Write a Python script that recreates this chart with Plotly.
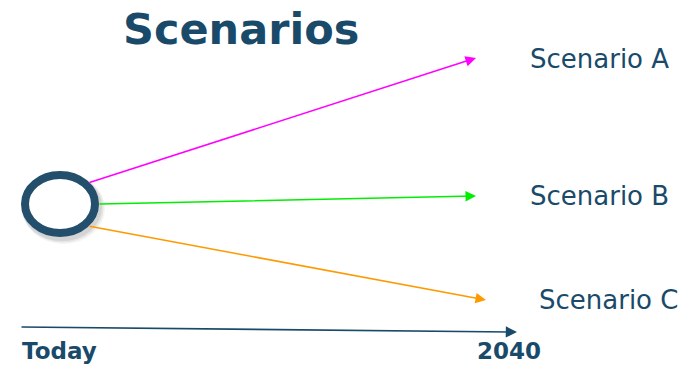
import plotly.graph_objects as go

# ---- data (diagram coordinates in a 692 x 367 canvas space) ----
scenarios = ["Scenario A", "Scenario B", "Scenario C"]
arrow_start_x = [88, 98, 88]
arrow_start_y = [183, 204, 226]
arrow_end_x = [476, 476, 486]
arrow_end_y = [58, 196, 300]
label_x = [528, 528, 537]
label_y = [59, 196, 300]

timeline_labels = ["Today", "2040"]
timeline_start = [20, 327]
timeline_end = [517, 332]
timeline_label_x = [20, 543]

circle_center = [60, 204]
circle_radius = [39, 33]

# ---- styles ----
scenario_colors = ["#ff00ff", "#00ee00", "#ff9900"]
navy = "#1a4a6a"
font_family = "'DejaVu Sans', sans-serif"

fig = go.Figure()

# invisible trace to establish axes
fig.add_trace(go.Scatter(x=[0, 692], y=[0, 367], mode="markers",
                         marker=dict(opacity=0), hoverinfo="skip", showlegend=False))

# circle shadow
cx, cy = circle_center
rx, ry = circle_radius
for i, op in enumerate([0.10, 0.08, 0.06]):
    d = 2 + i * 1.5
    fig.add_shape(type="circle", xref="x", yref="y",
                  x0=cx - rx + 1, x1=cx + rx + 1 + d,
                  y0=cy - ry + 2, y1=cy + ry + 2 + d,
                  line=dict(color="rgba(0,0,0,0)", width=0),
                  fillcolor=f"rgba(60,60,60,{op})", layer="below")
# circle
fig.add_shape(type="circle", xref="x", yref="y",
              x0=cx - rx + 4, x1=cx + rx - 4, y0=cy - ry + 4, y1=cy + ry - 4,
              line=dict(color="#234f6c", width=8), fillcolor="white")

# scenario arrows and labels
for name, sx, sy, ex, ey, lx, ly, col in zip(scenarios, arrow_start_x, arrow_start_y,
                                              arrow_end_x, arrow_end_y, label_x, label_y,
                                              scenario_colors):
    fig.add_annotation(x=ex, y=ey, ax=sx, ay=sy, xref="x", yref="y",
                       axref="x", ayref="y", text="", showarrow=True,
                       arrowhead=2, arrowsize=1.4, arrowwidth=1.5, arrowcolor=col)
    fig.add_annotation(x=lx, y=ly, xref="x", yref="y", text=name, showarrow=False,
                       xanchor="left", yanchor="middle",
                       font=dict(family=font_family, size=26, color=navy))

# timeline arrow
fig.add_annotation(x=timeline_end[0], y=timeline_end[1], ax=timeline_start[0], ay=timeline_start[1],
                   xref="x", yref="y", axref="x", ayref="y", text="", showarrow=True,
                   arrowhead=2, arrowsize=1.4, arrowwidth=1.6, arrowcolor=navy)
fig.add_annotation(x=timeline_label_x[0], y=351, xref="x", yref="y",
                   text="<b>" + timeline_labels[0] + "</b>", showarrow=False,
                   xanchor="left", yanchor="middle",
                   font=dict(family=font_family, size=23, color=navy))
fig.add_annotation(x=timeline_label_x[1], y=351, xref="x", yref="y",
                   text="<b>" + timeline_labels[1] + "</b>", showarrow=False,
                   xanchor="right", yanchor="middle",
                   font=dict(family=font_family, size=23, color=navy))

# title
fig.add_annotation(x=241, y=29, xref="x", yref="y", text="<b>Scenarios</b>",
                   showarrow=False, xanchor="center", yanchor="middle",
                   font=dict(family=font_family, size=43, color=navy))

fig.update_xaxes(range=[0, 692], visible=False, fixedrange=True)
fig.update_yaxes(range=[367, 0], visible=False, fixedrange=True)
fig.update_layout(width=692, height=367, margin=dict(l=0, r=0, t=0, b=0),
                  paper_bgcolor="white", plot_bgcolor="white", showlegend=False)

fig.write_html("out.html", config={"displayModeBar": False},
               post_script="document.body.style.margin='0';")
